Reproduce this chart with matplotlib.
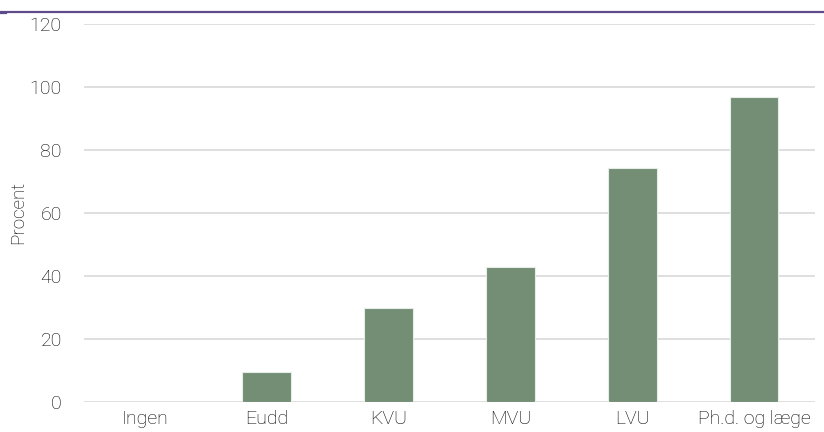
import matplotlib
matplotlib.use('Agg')
import matplotlib.pyplot as plt
from matplotlib.lines import Line2D

categories = ['Ingen', 'Eudd', 'KVU', 'MVU', 'LVU', 'Ph.d. og læge']
values = [0, 9.4, 29.8, 42.7, 74.3, 96.8]
yticks = [0, 20, 40, 60, 80, 100, 120]

plt.rcParams['font.family'] = ['Roboto', 'DejaVu Sans']
plt.rcParams['font.weight'] = 'light'
plt.rcParams['axes.labelweight'] = 'light'
text_col = '#000000'

fig = plt.figure(figsize=(8.24, 4.32), dpi=100)
ax = fig.add_axes([0.102, 0.0706, 0.887, 0.874])

x = range(len(categories))
ax.bar(x, values, width=0.4, color='#738E74', edgecolor='#e6ece6', linewidth=0.8, zorder=3)

ax.set_ylim(0, 120)
ax.set_xlim(-0.5, len(categories) - 0.5)
ax.set_yticks(yticks)
ax.set_xticks(list(x))
ax.set_xticklabels(categories)
ax.yaxis.grid(True, color='#d9d9d9', linewidth=1.2, zorder=0)
ax.tick_params(axis='both', length=0, labelsize=14, colors=text_col)
ax.tick_params(axis='y', pad=16)
ax.tick_params(axis='x', pad=6)
for s in ax.spines.values():
    s.set_visible(False)
ax.set_ylabel('Procent', fontsize=13.5, color=text_col, fontweight='light')
ax.yaxis.set_label_coords(-0.078, 0.5)

# purple rule at the top
fig.add_artist(Line2D([0, 1], [0.973, 0.973], color='#5F4B8B', linewidth=1.6, transform=fig.transFigure))
fig.add_artist(Line2D([0, 0.007], [0.969, 0.969], color='#5F4B8B', linewidth=1.6, transform=fig.transFigure))

fig.savefig('out.png', dpi=100)
